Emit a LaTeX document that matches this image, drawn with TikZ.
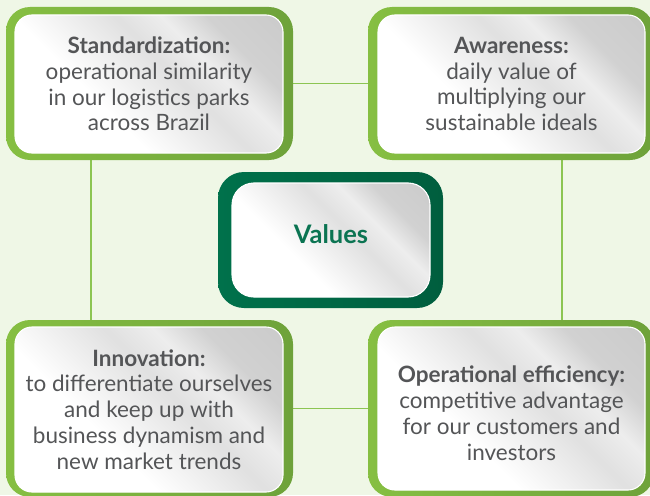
\documentclass[tikz,border=0pt]{standalone}
\usepackage{fontspec}
\setmainfont{Lato}
\usetikzlibrary{calc,backgrounds}

\definecolor{bg}{HTML}{EFF7E6}
\definecolor{leaf}{HTML}{86BF42}
\definecolor{leafdark}{HTML}{6EA23A}
\definecolor{forest}{HTML}{00714B}
\definecolor{forestdark}{HTML}{005E3E}
\definecolor{ink}{HTML}{545557}
\definecolor{valink}{HTML}{0B7452}
\definecolor{link}{HTML}{8CC552}

% glossy silver fill of the panels
\pgfdeclarehorizontalshading{glossy}{100bp}{color(0bp)=(white); color(38bp)=(white); color(56bp)=(black!12); color(64bp)=(black!7); color(72bp)=(black!18); color(100bp)=(black!23)}

\tikzset{
  frame/.style={shade, left color=leaf, right color=leafdark, rounded corners=24pt,
    inner sep=0pt, outer sep=0pt},
  hubframe/.style={shade, left color=forest, right color=forestdark, rounded corners=26pt,
    inner sep=0pt, outer sep=0pt},
  panel/.style={shade, shading=glossy, shading angle=45, draw=white, line width=1.1pt,
    rounded corners=17pt, inner sep=0pt, align=center, text=ink,
    font=\fontsize{22.5}{25.8}\selectfont},
  hub/.style={panel, rounded corners=22pt, text=valink,
    font=\bfseries\fontsize{25.5}{29}\selectfont, text depth=12pt},
  connector/.style={draw=link, line width=1.6pt},
}

\begin{document}
\begin{tikzpicture}[x=1pt, y=-1pt]
  \clip (0,0) rectangle (650,495);
  \begin{scope}[on background layer]
    \fill[bg] (0,0) rectangle (650,495);
  \end{scope}

  % outer green frames
  \node[frame, minimum width=287pt, minimum height=153pt] (TL) at (149.5,83.5) {};
  \node[frame, minimum width=286pt, minimum height=153pt] (TR) at (511,83.5) {};
  \node[frame, minimum width=287pt, minimum height=177pt] (BL) at (149.5,408.5) {};
  \node[frame, minimum width=286pt, minimum height=177pt] (BR) at (511,408.5) {};
  \node[hubframe, minimum width=225pt, minimum height=136pt] (C) at (330.5,240) {};

  % inner panels with text
  \node[panel, minimum width=268pt, minimum height=138pt] (tl) at (149,84)
    {\textbf{Standardization:}\\operational similarity\\in our logistics parks\\across Brazil};
  \node[panel, minimum width=267pt, minimum height=138pt] (tr) at (511.5,84)
    {\textbf{Awareness:}\\daily value of\\multiplying our\\sustainable ideals};
  \node[panel, minimum width=268pt, minimum height=165pt] (bl) at (149,409.5)
    {\textbf{Innovation:}\\to differentiate ourselves\\and keep up with\\business dynamism and\\new market trends};
  \node[panel, minimum width=267pt, minimum height=163pt] (br) at (511.5,408.5)
    {\rule{0pt}{26pt}\textbf{Operational efficiency:}\\competitive advantage\\for our customers and\\investors};
  \node[hub, minimum width=198pt, minimum height=114pt] (c) at (331,240) {Values};

  % connectors between the frames
  \begin{scope}[on background layer]
    \draw[connector] (TL.east) -- (TR.west);
    \draw[connector] (BL.east) -- (BR.west);
    \draw[connector] ($(TL.south west)!0.296!(TL.south east)$) -- ($(BL.north west)!0.296!(BL.north east)$);
    \draw[connector] ($(TR.south west)!0.678!(TR.south east)$) -- ($(BR.north west)!0.678!(BR.north east)$);
  \end{scope}
\end{tikzpicture}
\end{document}
